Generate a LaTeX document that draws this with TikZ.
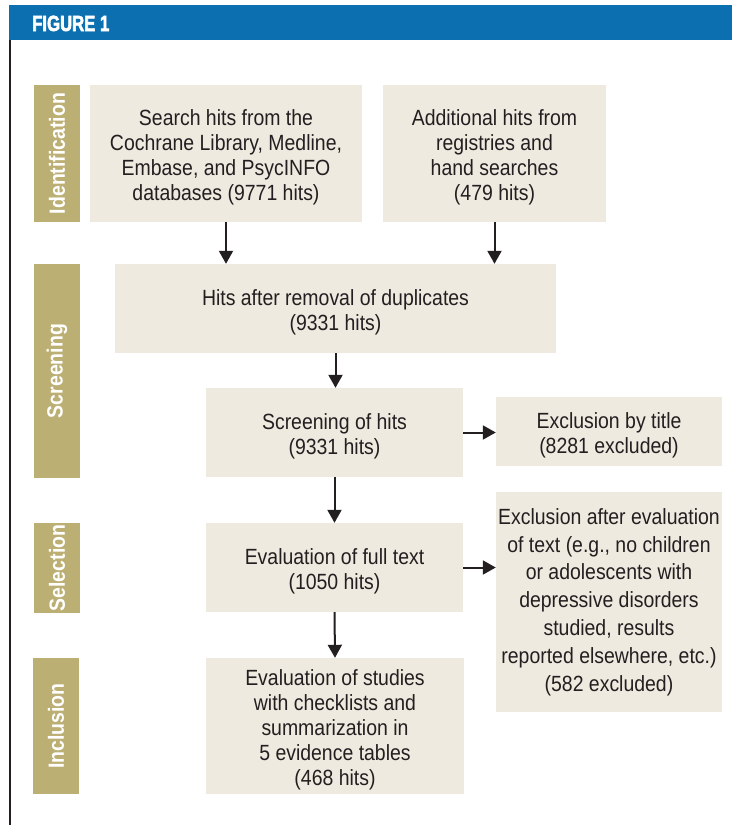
\documentclass[tikz,border=0pt]{standalone}
\usepackage{fontspec}
\setmainfont{Liberation Sans}[FakeStretch=0.884]
\newfontfamily\figfont{Liberation Sans}[FakeStretch=0.76,FakeBold=2.5]
\usetikzlibrary{arrows.meta}
\definecolor{barblue}{HTML}{0B6FB0}
\definecolor{stagetan}{HTML}{BCAF74}
\definecolor{boxcream}{HTML}{EEEAE0}
\definecolor{inktext}{HTML}{231F20}
\newcommand{\topline}{\rule{0pt}{23pt}}

\begin{document}
\begin{tikzpicture}[x=1pt, y=-1pt,
  box/.style={fill=boxcream, inner sep=0pt, align=center, text=inktext,
    font=\fontsize{22}{25}\selectfont},
  stage/.style={fill=stagetan, inner sep=0pt, rotate=90, text=white,
    minimum height=46, font=\fontsize{22}{25}\selectfont\bfseries},
  arr/.style={-{Triangle[length=13pt,width=14pt]}, line width=2pt, inktext}]
  \useasboundingbox (0,0) rectangle (732,825);
  % title bar and left rule
  \fill[barblue] (9,5) rectangle (732,40);
  \node[anchor=base west, inner sep=0pt, text=white,
    font=\figfont\fontsize{22}{26}\selectfont\bfseries] (figlabel) at (32,31) {FIGURE 1};
  \draw[inktext, line width=2pt] (10,40) -- (10,825);
  % stages
  \node[stage, minimum width=137] (ident) at (57,153.5) {Identification};
  \node[stage, minimum width=214] (screen) at (57,371) {Screening};
  \node[stage, minimum width=90] (select) at (57,568) {Selection};
  \node[stage, minimum width=136] (include) at (56,726) {Inclusion};
  % boxes
  \node[box, minimum width=272, minimum height=137] (srch) at (226,153.5)
    {\topline Search hits from the\\Cochrane Library, Medline,\\Embase, and PsycINFO\\databases (9771 hits)};
  \node[box, minimum width=223, minimum height=137] (addl) at (494.5,153.5)
    {\topline Additional hits from\\registries and\\hand searches\\(479 hits)};
  \node[box, minimum width=441, minimum height=89] (dupl) at (335.5,308.5)
    {\topline Hits after removal of duplicates\\(9331 hits)};
  \node[box, minimum width=257, minimum height=89] (scrn) at (334.5,432.5)
    {\topline Screening of hits\\(9331 hits)};
  \node[box, minimum width=226, minimum height=69] (extitle) at (609,431.5)
    {\topline Exclusion by title\\(8281 excluded)};
  \node[box, minimum width=257, minimum height=89] (full) at (334.5,567.5)
    {\topline Evaluation of full text\\(1050 hits)};
  \node[box, minimum width=226, minimum height=220,
    font=\fontsize{22}{27.8}\selectfont] (exfull) at (609,602)
    {Exclusion after evaluation\\of text (e.g., no children\\or adolescents with\\depressive disorders\\studied, results\\reported elsewhere, etc.)\\(582 excluded)};
  \node[box, minimum width=258, minimum height=136] (incl) at (335,726)
    {\topline Evaluation of studies\\with checklists and\\summarization in\\5 evidence tables\\(468 hits)};
  % arrows
  \draw[arr] (srch.south) -- (srch.south |- dupl.north);
  \draw[arr] (addl.south) -- (addl.south |- dupl.north);
  \draw[arr] (dupl.south) -- (dupl.south |- scrn.north);
  \draw[arr] (scrn.south) -- (full.north);
  \draw[arr] (full.south) -- (incl.north);
  \draw[arr] (scrn.east) -- (scrn.east -| extitle.west);
  \draw[arr] (full.east) -- (full.east -| exfull.west);
\end{tikzpicture}
\end{document}
